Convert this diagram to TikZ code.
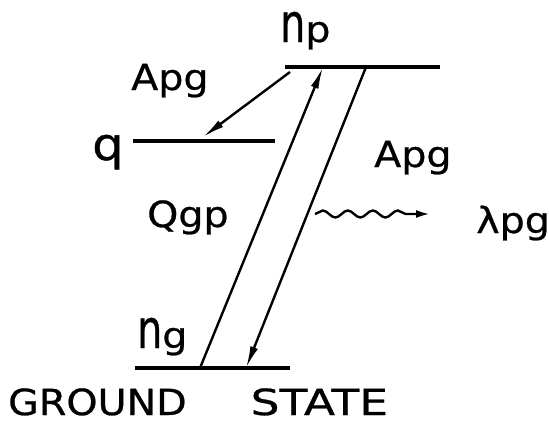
\documentclass[tikz,border=0pt]{standalone}
\usepackage{fontspec}
\newfontfamily\diagfont[FakeStretch=1.1, FakeBold=0.7]{DejaVu Sans}
\usetikzlibrary{arrows.meta,decorations.pathmorphing}

\newcommand{\bign}{\scalebox{1}[1.5]{n}}

\begin{document}
\begin{tikzpicture}[x=1pt, y=-1pt,
    >={Latex[length=22pt,width=8pt]},
    every node/.style={font=\diagfont\fontsize{36}{40}\selectfont, inner sep=0pt},
    level/.style={line width=3.8pt},
    trans/.style={line width=2.4pt, ->}]
  \useasboundingbox (0,0) rectangle (549,437);
  % levels
  \coordinate (np-l) at (285,67);  \coordinate (np-r) at (440,67);
  \coordinate (q-l)  at (133,141); \coordinate (q-r)  at (275,141);
  \coordinate (g-l)  at (135,368); \coordinate (g-r)  at (290,368);
  \draw[level] (np-l) -- (np-r);
  \draw[level] (q-l) -- (q-r);
  \draw[level] (g-l) -- (g-r);
  % end points of the transitions
  \coordinate (up-bot) at (200,368); \coordinate (up-top) at (323,67);
  \coordinate (dn-top) at (366,67);  \coordinate (dn-bot) at (246,368);
  \coordinate (dec-from) at (290,72); \coordinate (dec-to) at (203,137);
  \coordinate (wave-from) at (315,214); \coordinate (wave-to) at (430,214);
  \draw[trans] (up-bot) -- (up-top);
  \draw[trans] (dn-top) -- (dn-bot);
  \draw[trans] (dec-from) -- (dec-to);
  \draw[line width=2.4pt, ->, >={Latex[length=14pt,width=8pt]},
        decorate, decoration={snake, amplitude=3.5pt, segment length=25pt, post length=14pt}]
    (wave-from) -- (wave-to);
  % labels
  \node[anchor=base west] (lbl-np) at (280,42) {\bign p};
  \node[anchor=base west] (lbl-ng) at (137,348) {\bign g};
  \node[anchor=base west] (lbl-q) at (92,160) {\scalebox{1.25}{q}};
  \node[anchor=base west] (lbl-apg1) at (131,90) {Apg};
  \node[anchor=base west] (lbl-apg2) at (374,167) {Apg};
  \node[anchor=base west] (lbl-qgp) at (147,227) {Qgp};
  \node[anchor=base west] (lbl-lpg) at (476,233) {λpg};
  \node[anchor=base west] (lbl-gs) at (8,415) {GROUND\hspace{64pt}\scalebox{1.15}[1]{STATE}};
\end{tikzpicture}
\end{document}
